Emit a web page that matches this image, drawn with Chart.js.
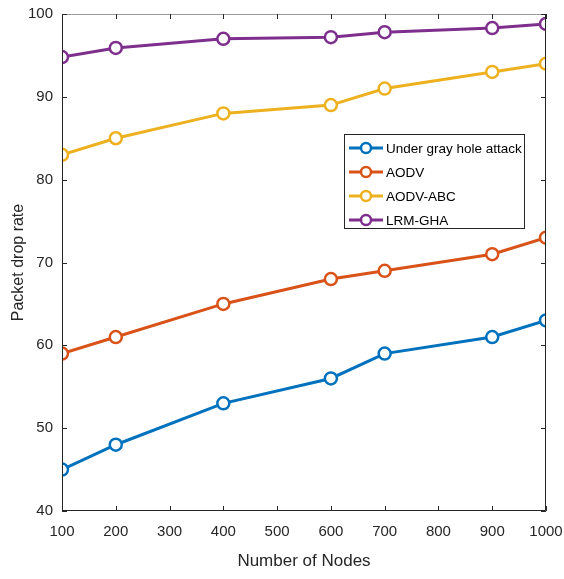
<!DOCTYPE html>
<html>
<head>
<meta charset="utf-8">
<script src="https://cdn.jsdelivr.net/npm/chart.js@4.4.0/dist/chart.umd.min.js"></script>
<style>
  body { margin: 0; background: #fff; }
  #wrap { width: 564px; height: 579px; }
</style>
</head>
<body>
<div id="wrap"><canvas id="myChart" width="564" height="579"></canvas></div>
<script>
var nodes = [100, 200, 400, 600, 700, 900, 1000];
var grayHole = [45, 48, 53, 56, 59, 61, 63];
var aodv = [59, 61, 65, 68, 69, 71, 73];
var aodvAbc = [83, 85, 88, 89, 91, 93, 94];
var lrmGha = [94.8, 95.9, 97, 97.2, 97.8, 98.3, 98.8];
var seriesNames = ['Under gray hole attack', 'AODV', 'AODV-ABC', 'LRM-GHA'];
var colors = ['#0072BD', '#D95319', '#EDB120', '#7E2F8E'];
var FONT = '"Liberation Sans", Arial, sans-serif';

function pts(ys) {
    return nodes.map(function (x, i) { return { x: x, y: ys[i] }; });
}

function makeSet(i, ys) {
    return {
        label: seriesNames[i],
        data: pts(ys),
        borderColor: colors[i],
        backgroundColor: '#ffffff',
        borderWidth: 3,
        pointRadius: 6,
        pointBorderWidth: 2.5,
        pointBackgroundColor: '#ffffff',
        pointBorderColor: colors[i],
        tension: 0
    };
}

// axis box with inward ticks on all sides, MATLAB style
var boxPlugin = {
    id: 'box',
    afterDraw: function (chart) {
        var ctx = chart.ctx, a = chart.chartArea;
        var xs = chart.scales.x, ys = chart.scales.y;
        ctx.save();
        ctx.lineWidth = 1;
        ctx.strokeStyle = '#9a9a9a';
        ctx.beginPath();
        ctx.moveTo(a.left, a.top + 0.5); ctx.lineTo(a.right, a.top + 0.5);
        ctx.stroke();
        ctx.strokeStyle = '#262626';
        ctx.beginPath();
        ctx.moveTo(a.left + 0.5, a.top); ctx.lineTo(a.left + 0.5, a.bottom - 0.5);
        ctx.lineTo(a.right - 0.5, a.bottom - 0.5); ctx.lineTo(a.right - 0.5, a.top);
        xs.ticks.forEach(function (t) {
            var p = Math.round(xs.getPixelForValue(t.value)) + 0.5;
            ctx.moveTo(p, a.bottom); ctx.lineTo(p, a.bottom - 5);
            ctx.moveTo(p, a.top); ctx.lineTo(p, a.top + 5);
        });
        ys.ticks.forEach(function (t) {
            var p = Math.round(ys.getPixelForValue(t.value)) + 0.5;
            ctx.moveTo(a.left, p); ctx.lineTo(a.left + 5, p);
            ctx.moveTo(a.right, p); ctx.lineTo(a.right - 5, p);
        });
        ctx.stroke();

        // legend
        var lx = 344, ly = 134, lw = 180, lh = 94;
        ctx.fillStyle = '#fff';
        ctx.fillRect(lx, ly, lw, lh);
        ctx.strokeStyle = '#262626';
        ctx.strokeRect(lx + 0.5, ly + 0.5, lw, lh);
        ctx.font = '13.5px ' + FONT;
        ctx.textBaseline = 'middle';
        chart.data.datasets.forEach(function (ds, i) {
            var y = ly + 14 + i * 24;
            ctx.strokeStyle = ds.borderColor;
            ctx.lineWidth = 3;
            ctx.beginPath();
            ctx.moveTo(lx + 5, y); ctx.lineTo(lx + 39, y);
            ctx.stroke();
            ctx.beginPath();
            ctx.arc(lx + 22, y, 5, 0, Math.PI * 2);
            ctx.fillStyle = '#fff';
            ctx.fill();
            ctx.lineWidth = 2.5;
            ctx.stroke();
            ctx.fillStyle = '#000';
            ctx.fillText(ds.label, lx + 42, y + 1);
        });
        ctx.restore();
    }
};

var ctx = document.getElementById('myChart').getContext('2d');
var myChart = new Chart(ctx, {
    type: 'line',
    data: {
        datasets: [makeSet(0, grayHole), makeSet(1, aodv), makeSet(2, aodvAbc), makeSet(3, lrmGha)]
    },
    options: {
        responsive: false,
        animation: false,
        layout: { padding: { top: 14, right: 18, left: 0, bottom: 0 } },
        plugins: { legend: { display: false }, tooltip: { enabled: false } },
        scales: {
            x: {
                type: 'linear', min: 100, max: 1000,
                afterFit: function (s) { s.height = 68; s.paddingLeft = 0; s.paddingRight = 0; },
                grid: { display: false, drawTicks: false },
                border: { display: false },
                ticks: { stepSize: 100, color: '#262626', padding: 12, maxRotation: 0,
                    callback: function (v) { return String(v); },
                    font: { family: FONT, size: 15 } },
                title: { display: true, text: 'Number of Nodes', color: '#262626',
                    font: { family: FONT, size: 17 }, padding: { top: 4, bottom: 7 } }
            },
            y: {
                min: 40, max: 100,
                afterFit: function (s) { s.width = 62; s.paddingTop = 0; s.paddingBottom = 0; },
                grid: { display: false, drawTicks: false },
                border: { display: false },
                ticks: { stepSize: 10, color: '#262626', padding: 9,
                    font: { family: FONT, size: 15 } },
                title: { display: true, text: 'Packet drop rate', color: '#262626',
                    font: { family: FONT, size: 16 }, padding: { top: 9, bottom: 2 } }
            }
        }
    },
    plugins: [boxPlugin]
});
</script>
</body>
</html>
